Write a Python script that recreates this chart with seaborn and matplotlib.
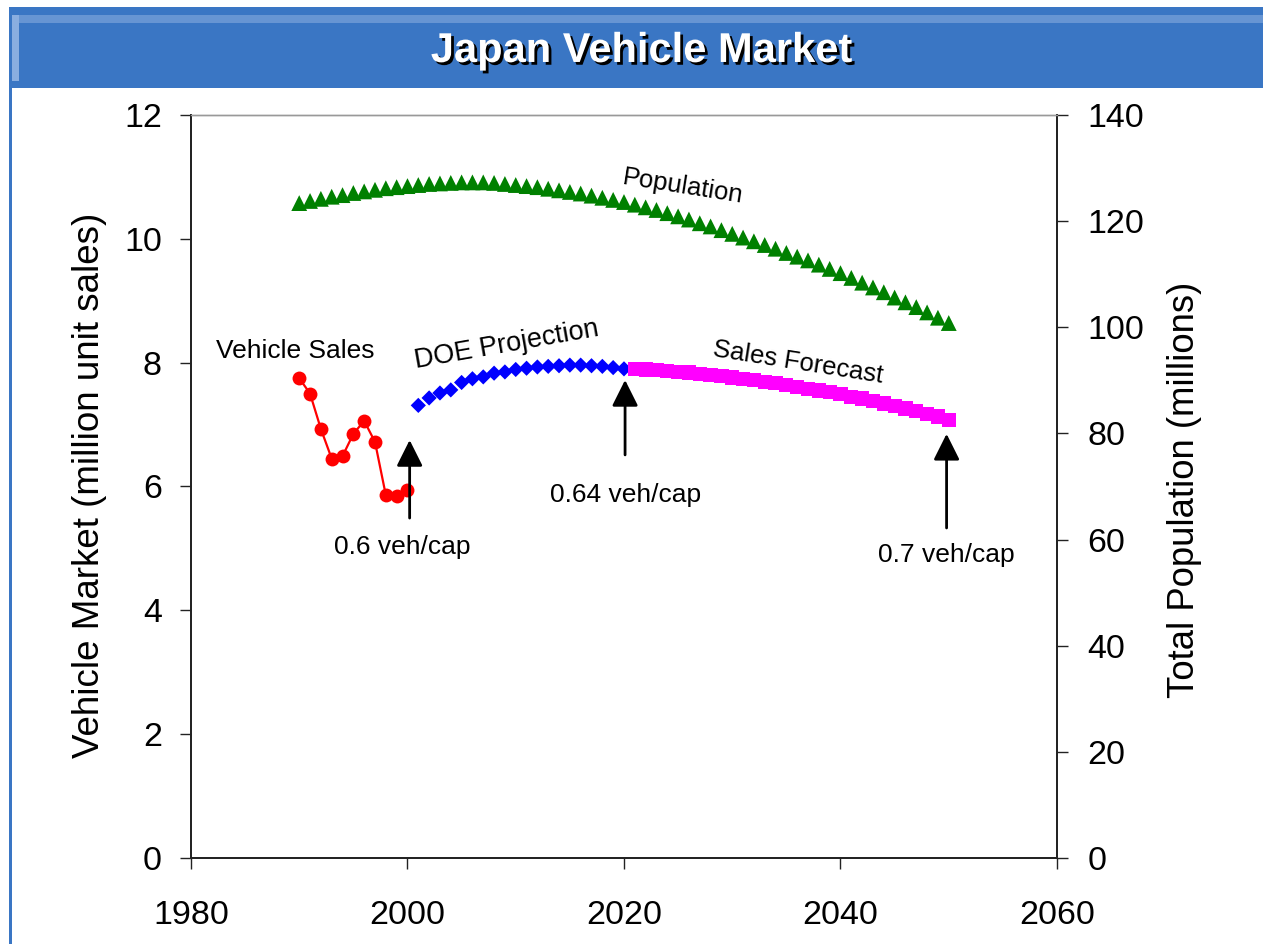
import matplotlib
matplotlib.use("Agg")
import matplotlib.pyplot as plt
import matplotlib.patheffects as pe
from matplotlib.patches import Rectangle
import numpy as np
import pandas as pd
import seaborn as sns

# Historical vehicle sales (million units)
sales_years = [1990, 1991, 1992, 1993, 1994, 1995, 1996, 1997, 1998, 1999, 2000]
sales_vals = [7.75, 7.50, 6.93, 6.45, 6.49, 6.85, 7.06, 6.72, 5.86, 5.85, 5.95]

# DOE projection (million units)
doe_years = list(range(2001, 2021))
doe_vals = [7.31, 7.43, 7.51, 7.56, 7.68, 7.74, 7.77, 7.83, 7.85, 7.89,
            7.91, 7.93, 7.94, 7.95, 7.96, 7.96, 7.95, 7.94, 7.92, 7.90]

# Sales forecast (million units)
fc_years = list(range(2021, 2051))
fc_vals = [7.90, 7.89, 7.88, 7.87, 7.85, 7.84, 7.82, 7.80, 7.78, 7.76,
           7.74, 7.72, 7.69, 7.67, 7.64, 7.61, 7.58, 7.55, 7.52, 7.49,
           7.45, 7.42, 7.38, 7.34, 7.30, 7.26, 7.22, 7.17, 7.13, 7.08]

# Total population (millions)
pop_years = list(range(1990, 2051))
pop_vals = [123.4, 123.8, 124.2, 124.6, 124.9, 125.3, 125.6, 125.9, 126.2, 126.4,
            126.6, 126.8, 127.0, 127.1, 127.2, 127.3, 127.3, 127.3, 127.2, 127.0,
            126.8, 126.6, 126.4, 126.1, 125.8, 125.5, 125.2, 124.8, 124.4, 124.0,
            123.6, 123.1, 122.6, 122.1, 121.5, 120.9, 120.3, 119.6, 119.0, 118.3,
            117.6, 116.9, 116.2, 115.5, 114.8, 114.0, 113.3, 112.6, 111.8, 111.0,
            110.2, 109.3, 108.4, 107.5, 106.6, 105.6, 104.7, 103.8, 102.8, 101.8,
            100.8]

# veh/cap callouts: (year, arrow tail, arrow head, label x, label y, label)
callouts = [
    (2000.2, 5.49, 6.75, 1999.5, 5.02, "0.6 veh/cap"),
    (2020.1, 6.51, 7.72, 2020.1, 5.86, "0.64 veh/cap"),
    (2049.8, 5.33, 6.85, 2049.8, 4.89, "0.7 veh/cap"),
]

sns.set_style("white")
plt.rcParams["font.family"] = ["Liberation Sans", "DejaVu Sans"]
plt.rcParams["text.color"] = "black"
plt.rcParams["xtick.color"] = "black"
plt.rcParams["ytick.color"] = "black"

fig = plt.figure(figsize=(12.63, 9.44), dpi=100)
ax = fig.add_axes([0.1512, 0.0911, 0.6857, 0.7871])
ax2 = ax.twinx()

sales_df = pd.DataFrame({"Year": sales_years, "Sales": sales_vals})
doe_df = pd.DataFrame({"Year": doe_years, "Sales": doe_vals})
fc_df = pd.DataFrame({"Year": fc_years, "Sales": fc_vals})
pop_df = pd.DataFrame({"Year": pop_years, "Population": pop_vals})

sns.lineplot(data=sales_df, x="Year", y="Sales", ax=ax, color="#ff0000",
             marker="o", markersize=10, markeredgewidth=0, linewidth=1.6)
sns.scatterplot(data=doe_df, x="Year", y="Sales", ax=ax, color="#0000ff",
                marker="D", s=60, edgecolor="none")
sns.scatterplot(data=fc_df, x="Year", y="Sales", ax=ax, color="#ff00ff",
                marker="s", s=105, edgecolor="none")
sns.scatterplot(data=pop_df, x="Year", y="Population", ax=ax2, color="#008000",
                marker="^", s=130, edgecolor="none")

ax.set_xlim(1980, 2060)
ax.set_ylim(0, 12)
ax2.set_ylim(0, 140)
ax.set_xticks(np.arange(1980, 2061, 20))
ax.set_yticks(np.arange(0, 13, 2))
ax2.set_yticks(np.arange(0, 141, 20))
ax.set_xlabel("")
ax.set_ylabel("")
ax2.set_ylabel("")

spine_col = "#222222"
for a in (ax, ax2):
    for side in ("left", "right", "bottom"):
        a.spines[side].set_color(spine_col)
        a.spines[side].set_linewidth(1.3)
    a.spines["top"].set_color("#999999")
    a.spines["top"].set_linewidth(1.0)
ax.tick_params(axis="y", direction="out", length=8, width=1, color=spine_col,
               labelsize=24.5, pad=13, left=True)
ax.tick_params(axis="x", direction="out", length=8, width=1, color=spine_col,
               labelsize=24.5, pad=22, bottom=True)
ax2.tick_params(axis="y", direction="out", length=8, width=1, color=spine_col,
                labelsize=24.5, pad=14, right=True)

fig.text(0.071, 0.486, "Vehicle Market (million unit sales)", rotation=90,
         ha="center", va="center", fontsize=26.5)
fig.text(0.938, 0.481, "Total Population (millions)", rotation=90,
         ha="center", va="center", fontsize=26.3)

# series labels
ax.text(1989.6, 8.19, "Vehicle Sales", ha="center", va="center", fontsize=19)
ax.text(2009.2, 8.29, "DOE Projection", ha="center", va="center", fontsize=19.5,
        rotation=10)
ax.text(2036.1, 8.01, "Sales Forecast", ha="center", va="center", fontsize=18.5,
        rotation=-9)
ax.text(2025.4, 10.84, "Population", ha="center", va="center", fontsize=18.5,
        rotation=-9)

for x, y0, y1, lx, ly, label in callouts:
    ax.annotate("", xy=(x, y1), xytext=(x, y0),
                arrowprops=dict(arrowstyle="-|>,head_length=0.8,head_width=0.4",
                                color="black", lw=2, mutation_scale=20,
                                shrinkA=0, shrinkB=0))
    ax.text(lx, ly, label, ha="center", va="center", fontsize=19)

# title banner
fig.patches.append(Rectangle((0.007, 0.9068), 0.993, 0.0858, transform=fig.transFigure,
                             facecolor="#3a76c4", edgecolor="none", zorder=0))
fig.patches.append(Rectangle((0.0095, 0.976), 0.9905, 0.0085, transform=fig.transFigure,
                             facecolor="#6795d3", edgecolor="none", zorder=1))
fig.patches.append(Rectangle((0.0095, 0.914), 0.0055, 0.070, transform=fig.transFigure,
                             facecolor="#8aaee0", edgecolor="none", zorder=1))
fig.patches.append(Rectangle((0.007, 0.0), 0.0025, 0.91, transform=fig.transFigure,
                             facecolor="#3a76c4", edgecolor="none", zorder=1))
fig.text(0.508, 0.946, "Japan Vehicle Market", ha="center", va="center",
         fontsize=30, fontweight="bold", color="white",
         path_effects=[pe.withSimplePatchShadow(offset=(2, -2), shadow_rgbFace="black",
                                                alpha=1.0)])

fig.savefig("out.png", dpi=100)
